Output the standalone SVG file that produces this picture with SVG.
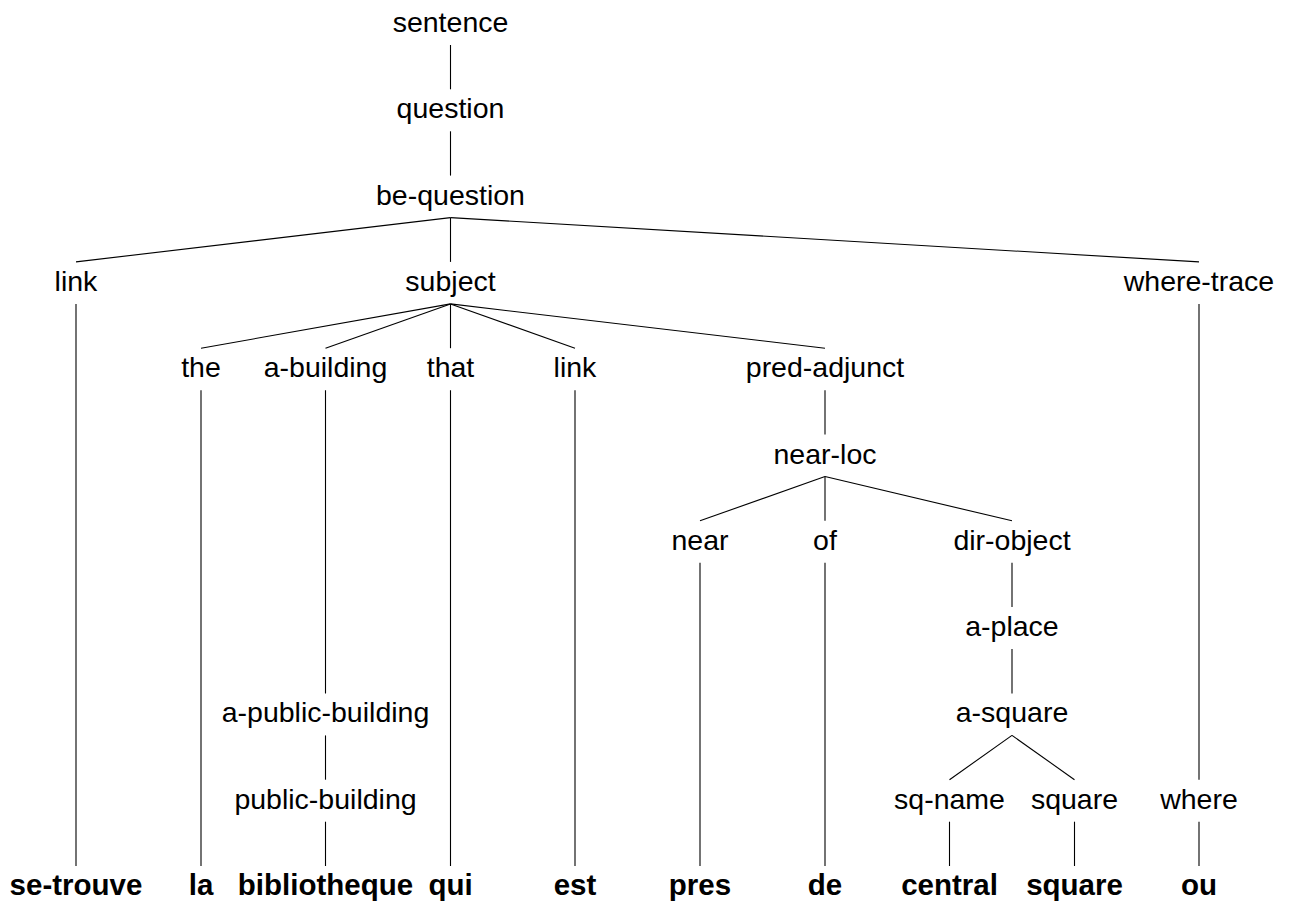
<svg xmlns="http://www.w3.org/2000/svg" width="1293" height="905" viewBox="0 0 1293 905">
<style>
text{font-family:"Liberation Sans",Arial,sans-serif;font-size:28.5px;fill:#000;text-anchor:middle}
.w{font-weight:bold;font-size:29.5px}
#edges line{stroke:#000;stroke-width:1.1;fill:none}
</style>
<rect width="1293" height="905" fill="#fff"/>
<g id="edges">
<line x1="450.5" y1="45" x2="450.5" y2="89.3"/>
<line x1="450.5" y1="131.3" x2="450.5" y2="175.6"/>
<line x1="450.5" y1="217.6" x2="76" y2="261.9"/>
<line x1="450.5" y1="217.6" x2="450.5" y2="261.9"/>
<line x1="450.5" y1="217.6" x2="1199" y2="261.9"/>
<line x1="76" y1="303.9" x2="76" y2="866"/>
<line x1="450.5" y1="303.9" x2="201" y2="348.2"/>
<line x1="450.5" y1="303.9" x2="325.5" y2="348.2"/>
<line x1="450.5" y1="303.9" x2="450.5" y2="348.2"/>
<line x1="450.5" y1="303.9" x2="575" y2="348.2"/>
<line x1="450.5" y1="303.9" x2="825" y2="348.2"/>
<line x1="1199" y1="303.9" x2="1199" y2="779.7"/>
<line x1="201" y1="390.2" x2="201" y2="866"/>
<line x1="325.5" y1="390.2" x2="325.5" y2="693.4"/>
<line x1="450.5" y1="390.2" x2="450.5" y2="866"/>
<line x1="575" y1="390.2" x2="575" y2="866"/>
<line x1="825" y1="390.2" x2="825" y2="434.5"/>
<line x1="825" y1="476.5" x2="700" y2="520.8"/>
<line x1="825" y1="476.5" x2="825" y2="520.8"/>
<line x1="825" y1="476.5" x2="1012" y2="520.8"/>
<line x1="700" y1="562.8" x2="700" y2="866"/>
<line x1="825" y1="562.8" x2="825" y2="866"/>
<line x1="1012" y1="562.8" x2="1012" y2="607.1"/>
<line x1="1012" y1="649.1" x2="1012" y2="693.4"/>
<line x1="325.5" y1="735.4" x2="325.5" y2="779.7"/>
<line x1="1012" y1="735.4" x2="949.5" y2="779.7"/>
<line x1="1012" y1="735.4" x2="1074.5" y2="779.7"/>
<line x1="325.5" y1="821.7" x2="325.5" y2="866"/>
<line x1="949.5" y1="821.7" x2="949.5" y2="866"/>
<line x1="1074.5" y1="821.7" x2="1074.5" y2="866"/>
<line x1="1199" y1="821.7" x2="1199" y2="866"/>
</g>
<g id="n-sentence"><text x="450.5" y="32">sentence</text></g>
<g id="n-question"><text x="450.5" y="118.3">question</text></g>
<g id="n-be-question"><text x="450.5" y="204.6">be-question</text></g>
<g id="n-link1"><text x="76" y="290.9">link</text></g>
<g id="n-subject"><text x="450.5" y="290.9">subject</text></g>
<g id="n-where-trace"><text x="1199" y="290.9">where-trace</text></g>
<g id="n-the"><text x="201" y="377.2">the</text></g>
<g id="n-a-building"><text x="325.5" y="377.2">a-building</text></g>
<g id="n-that"><text x="450.5" y="377.2">that</text></g>
<g id="n-link2"><text x="575" y="377.2">link</text></g>
<g id="n-pred-adjunct"><text x="825" y="377.2">pred-adjunct</text></g>
<g id="n-near-loc"><text x="825" y="463.5">near-loc</text></g>
<g id="n-near"><text x="700" y="549.8">near</text></g>
<g id="n-of"><text x="825" y="549.8">of</text></g>
<g id="n-dir-object"><text x="1012" y="549.8">dir-object</text></g>
<g id="n-a-place"><text x="1012" y="636.1">a-place</text></g>
<g id="n-a-public-building"><text x="325.5" y="722.4">a-public-building</text></g>
<g id="n-a-square"><text x="1012" y="722.4">a-square</text></g>
<g id="n-public-building"><text x="325.5" y="808.7">public-building</text></g>
<g id="n-sq-name"><text x="949.5" y="808.7">sq-name</text></g>
<g id="n-square"><text x="1074.5" y="808.7">square</text></g>
<g id="n-where"><text x="1199" y="808.7">where</text></g>
<g id="w-se-trouve"><text class="w" x="76" y="895">se-trouve</text></g>
<g id="w-la"><text class="w" x="201" y="895">la</text></g>
<g id="w-bibliotheque"><text class="w" x="325.5" y="895">bibliotheque</text></g>
<g id="w-qui"><text class="w" x="450.5" y="895">qui</text></g>
<g id="w-est"><text class="w" x="575" y="895">est</text></g>
<g id="w-pres"><text class="w" x="700" y="895">pres</text></g>
<g id="w-de"><text class="w" x="825" y="895">de</text></g>
<g id="w-central"><text class="w" x="949.5" y="895">central</text></g>
<g id="w-square"><text class="w" x="1074.5" y="895">square</text></g>
<g id="w-ou"><text class="w" x="1199" y="895">ou</text></g>
</svg>
